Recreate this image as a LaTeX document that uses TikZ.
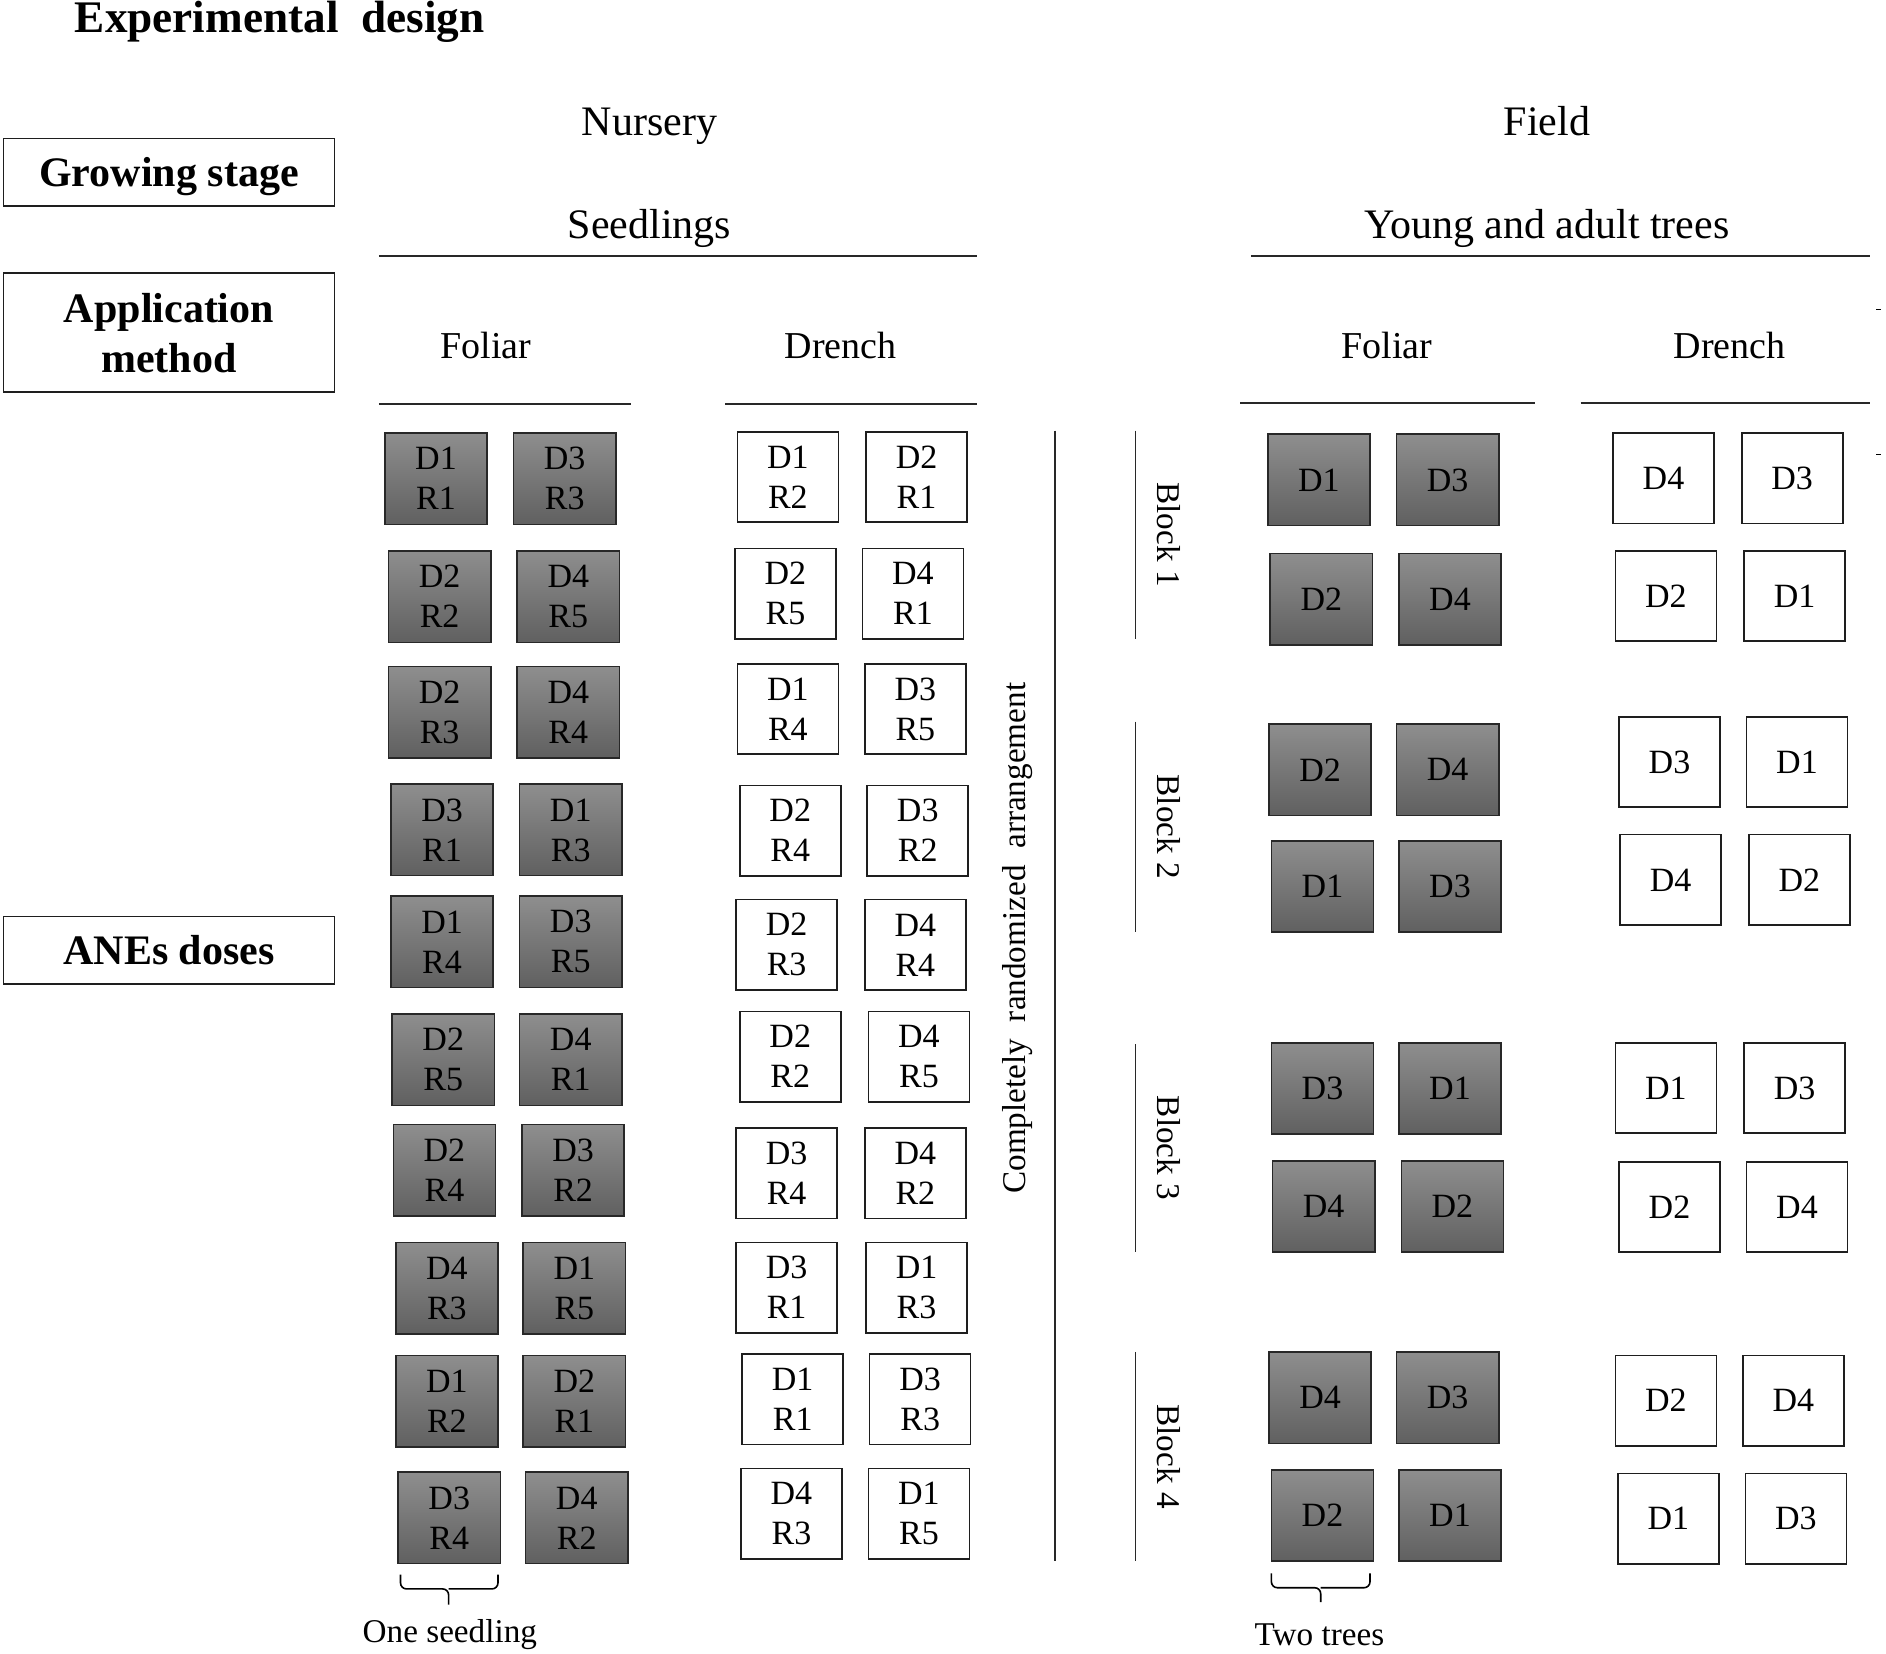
\documentclass[tikz,border=0pt]{standalone}
\usepackage{fontspec}
\setmainfont{Liberation Serif}
\begin{document}
\begin{tikzpicture}[x=0.6014pt,y=-0.6014pt,
  gbox/.style={draw={rgb,255:red,40;green,40;blue,40},line width=0.8pt,
    top color={rgb,255:red,142;green,142;blue,142},bottom color={rgb,255:red,96;green,96;blue,96},
    minimum width=51.1pt,minimum height=45.7pt,inner sep=0pt,align=center,
    font=\fontsize{17}{20}\selectfont},
  wbox/.style={draw={rgb,255:red,30;green,30;blue,30},line width=0.8pt,fill=white,
    minimum width=50.5pt,minimum height=45.2pt,inner sep=0pt,align=center,
    font=\fontsize{17}{20}\selectfont},
  lbox/.style={draw={rgb,255:red,30;green,30;blue,30},line width=0.8pt,minimum width=165.4pt,
    inner sep=0pt,align=center,text depth=0pt,font=\bfseries\fontsize{21}{25}\selectfont},
  head/.style={font=\fontsize{21}{25}\selectfont,inner sep=0pt,anchor=base},
  meth/.style={font=\fontsize{19}{23}\selectfont,inner sep=0pt},
  small/.style={font=\fontsize{16.6}{20}\selectfont,inner sep=0pt},
  rule/.style={line width=0.9pt,draw={rgb,255:red,40;green,40;blue,40}}
]
\useasboundingbox (0,0) rectangle (1568,1375);

% title
\node[anchor=base west,inner sep=0pt,font=\bfseries\fontsize{22.6}{26}\selectfont] (title) at (62,27) {Experimental\ \ design};

% left label boxes
\node[lbox,minimum height=33.7pt] (gs) at (140.5,143) {Growing stage};
\node[lbox,minimum height=59.5pt] (am) at (140.5,276.5) {Application\\method};
\node[lbox,minimum height=33.7pt] (ane) at (140.5,790) {ANEs doses};

% headings
\node[head] (nursery) at (540,113) {Nursery};
\node[head] (field) at (1286,113) {Field};
\node[head] (seed) at (540,198) {Seedlings};
\node[head] (young) at (1286,198) {Young and adult trees};
\draw[rule] (315,213) -- (812,213);
\draw[rule] (1040,213) -- (1555,213);

\node[meth] (nfol) at (404,287) {Foliar};
\node[meth] (ndr) at (699,287) {Drench};
\node[meth] (ffol) at (1153,287) {Foliar};
\node[meth] (fdr) at (1438,287) {Drench};
\draw[rule] (315,336) -- (525,336);
\draw[rule] (603,336) -- (812,336);
\draw[rule] (1031,335) -- (1276,335);
\draw[rule] (1314,335) -- (1555,335);

% small marks at right edge
\draw[line width=0.6pt] (1560,257) -- (1564,257);
\draw[line width=0.6pt] (1560,378) -- (1564,378);

% nursery foliar
\foreach \i/\lx/\rx/\yy/\la/\lb/\ra/\rb in {
 1/320/427/359/D1/R1/D3/R3,
 2/323/430/457/D2/R2/D4/R5,
 3/323/430/553/D2/R3/D4/R4,
 4/325/432/651/D3/R1/D1/R3,
 5/325/432/744/D1/R4/D3/R5,
 6/326/432/842/D2/R5/D4/R1,
 7/327/434/934/D2/R4/D3/R2,
 8/329/435/1032/D4/R3/D1/R5,
 9/329/435/1126/D1/R2/D2/R1,
 10/331/437/1223/D3/R4/D4/R2}{
  \node[gbox] (nfl\i) at (\lx+42.5,\yy+39) {\la\\\lb};
  \node[gbox] (nfr\i) at (\rx+42.5,\yy+39) {\ra\\\rb};
}

% nursery drench
\foreach \i/\lx/\rx/\yy/\la/\lb/\ra/\rb in {
 1/613/720/358/D1/R2/D2/R1,
 2/611/717/455/D2/R5/D4/R1,
 3/613/719/551/D1/R4/D3/R5,
 4/615/721/652/D2/R4/D3/R2,
 5/612/719/747/D2/R3/D4/R4,
 6/615/722/840/D2/R2/D4/R5,
 7/612/719/937/D3/R4/D4/R2,
 8/612/720/1032/D3/R1/D1/R3,
 9/617/723/1125/D1/R1/D3/R3,
 10/616/722/1220/D4/R3/D1/R5}{
  \node[wbox] (ndl\i) at (\lx+42,\yy+38.5) {\la\\\lb};
  \node[wbox] (ndr\i) at (\rx+42,\yy+38.5) {\ra\\\rb};
}

% completely randomized arrangement
\draw[rule] (877,358) -- (877,1298);
\node[small,rotate=90] (cra) at (846,780) {Completely\ \ randomized\ \ arrangement};

% blocks
\foreach \b/\ya/\yb in {1/358/531,2/600/775,3/868/1041,4/1124/1298}{
  \draw[rule] (944,\ya) -- (944,\yb);
  \node[small,rotate=-90] (blk\b) at (972,{(\ya+\yb)/2}) {Block \b};
}

% field foliar
\foreach \n/\lx/\rx/\yy/\la/\ra in {
 11/1054/1161/360/D1/D3,
 12/1056/1163/459/D2/D4,
 21/1055/1161/601/D2/D4,
 22/1057/1163/698/D1/D3,
 31/1057/1163/866/D3/D1,
 32/1058/1165/964/D4/D2,
 41/1055/1161/1123/D4/D3,
 42/1057/1163/1221/D2/D1}{
  \node[gbox] (ffl\n) at (\lx+42.5,\yy+39) {\la};
  \node[gbox] (ffr\n) at (\rx+42.5,\yy+39) {\ra};
}

% field drench
\foreach \n/\lx/\rx/\yy/\la/\ra in {
 11/1341/1448/359/D4/D3,
 12/1343/1450/457/D2/D1,
 21/1346/1452/595/D3/D1,
 22/1347/1454/693/D4/D2,
 31/1343/1450/866/D1/D3,
 32/1346/1452/965/D2/D4,
 41/1343/1449/1126/D2/D4,
 42/1345/1451/1224/D1/D3}{
  \node[wbox] (fdl\n) at (\lx+42,\yy+38.5) {\la};
  \node[wbox] (fdr\n) at (\rx+42,\yy+38.5) {\ra};
}

% braces
\draw[line width=0.8pt,rounded corners=3pt] (333,1309) |- (373,1321) -- (373,1334);
\draw[line width=0.8pt,rounded corners=3pt] (414,1309) |- (373,1321);
\node[small] (one) at (374,1359) {One seedling};

\draw[line width=0.8pt,rounded corners=3pt] (1057,1308) |- (1098,1320) -- (1098,1332);
\draw[line width=0.8pt,rounded corners=3pt] (1139,1308) |- (1098,1320);
\node[small] (two) at (1097,1359) {Two trees};
\end{tikzpicture}
\end{document}
